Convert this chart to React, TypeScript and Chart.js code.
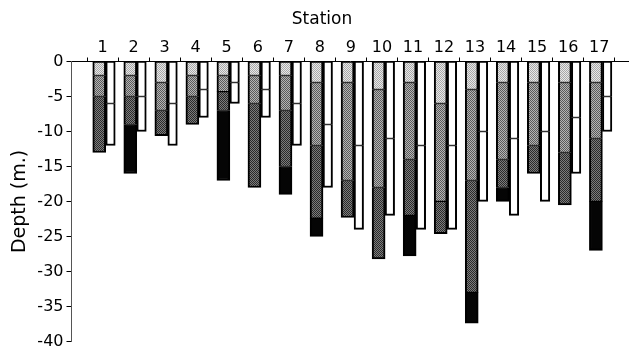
import React, { useEffect, useRef } from 'react';
import { Chart, registerables } from 'chart.js';

Chart.register(...registerables);

// ---- data ----
const stations = [1, 2, 3, 4, 5, 6, 7, 8, 9, 10, 11, 12, 13, 14, 15, 16, 17];
const stationBoundaries = [0.5, 1.5, 2.5, 3.5, 4.5, 5.5, 6.5, 7.5, 8.5, 9.5, 10.5, 11.5, 12.5, 13.5, 14.5, 15.5, 16.5, 17.5];

// left stacked column: layer thicknesses (m, negative = downward)
const layer1 = [-2, -2, -3, -2, -2, -2, -2, -3, -3, -4, -3, -6, -4, -3, -3, -3, -3];
const layer2 = [-3, -3, -4, -3, -2.3, -4, -5, -9, -14, -14, -11, -14, -13, -11, -9, -10, -8];
const layer3 = [-8, -4, -3.6, -4, -2.7, -12, -8, -10.4, -5.3, -10.2, -8, -4.6, -16, -4, -4, -7.5, -9];
const layer4 = [0, -7, 0, 0, -10, 0, -4, -2.6, 0, 0, -5.8, 0, -4.4, -2, 0, 0, -7];

// right open column: upper and lower halves
const upperPart = [-6, -5, -6, -4, -3, -4, -6, -9, -12, -11, -12, -12, -10, -11, -10, -8, -5];
const lowerPart = [-6, -5, -6, -4, -3, -4, -6, -9, -12, -11, -12, -12, -10, -11, -10, -8, -5];

const yMin = -40;
const yMax = 0;
const yStep = 5;

const FONT = 'DejaVu Sans';

function makePattern(ctx: CanvasRenderingContext2D, a: string, b: string): any {
  const c = document.createElement('canvas');
  c.width = 2;
  c.height = 2;
  const g = c.getContext('2d')!;
  g.fillStyle = a;
  g.fillRect(0, 0, 2, 2);
  g.fillStyle = b;
  g.fillRect(0, 0, 1, 1);
  g.fillRect(1, 1, 1, 1);
  return ctx.createPattern(c, 'repeat') || a;
}

export default function App() {
  const ref = useRef<HTMLCanvasElement | null>(null);

  useEffect(() => {
    const canvas = ref.current!;
    const ctx = canvas.getContext('2d')!;
    const pLight = makePattern(ctx, '#e8e8e8', '#a8a8a8');
    const pMid = makePattern(ctx, '#b4b4b4', '#5a5a5a');
    const pDark = makePattern(ctx, '#7c7c7c', '#2a2a2a');

    const leftLayers = [layer1, layer2, layer3, layer4];
    const leftFills: any[] = [pLight, pMid, pDark, '#050505'];
    const rightLayers = [upperPart, lowerPart];

    const bw = (layers: number[][], k: number) => (c: any) => {
      const i = c.dataIndex;
      let last = true;
      for (let j = k + 1; j < layers.length; j++) if (layers[j][i] !== 0) last = false;
      return { top: 1, bottom: last ? 2 : 1, left: 2, right: 2 };
    };

    const datasets: any[] = [];
    leftLayers.forEach((arr, k) => {
      datasets.push({
        label: 'L' + k,
        stack: 'L',
        xAxisID: 'xd',
        yAxisID: 'y',
        data: stations.map((s, i) => ({ x: s, y: arr[i] })),
        backgroundColor: leftFills[k],
        borderColor: '#000',
        borderWidth: bw(leftLayers, k),
        borderSkipped: false,
        barThickness: 13,
      });
    });
    rightLayers.forEach((arr, k) => {
      datasets.push({
        label: 'R' + k,
        stack: 'R',
        xAxisID: 'xd',
        yAxisID: 'y',
        data: stations.map((s, i) => ({ x: s, y: arr[i] })),
        backgroundColor: '#ffffff',
        borderColor: '#000',
        borderWidth: bw(rightLayers, k),
        borderSkipped: false,
        barThickness: 9.5,
      });
    });

    const xMax = 17.96;
    const shift = 0.103;

    const chart = new Chart(ctx, {
      type: 'bar',
      data: { datasets },
      options: {
        animation: false,
        responsive: true,
        maintainAspectRatio: false,
        devicePixelRatio: 1,
        layout: { padding: { left: 15, right: 0, top: 0, bottom: 12.5 } },
        plugins: {
          legend: { display: false },
          tooltip: { enabled: false },
          title: {
            display: true,
            text: 'Station',
            position: 'top',
            align: 'center',
            fullSize: true,
            color: '#000',
            font: { family: FONT, size: 17, weight: 'normal' },
            padding: { top: 9, bottom: 0 },
          },
        },
        scales: {
          xd: { type: 'linear', display: false, offset: false, min: 0 - shift, max: xMax - shift },
          x: {
            type: 'linear',
            position: 'top',
            weight: 0,
            offset: false,
            min: 0,
            max: xMax,
            afterBuildTicks: (s: any) => {
              s.ticks = stationBoundaries.map((v) => ({ value: v }));
            },
            ticks: { display: false },
            grid: { offset: false, drawOnChartArea: false, drawTicks: true, tickLength: 4, color: '#000', lineWidth: 1 },
            border: { display: true, color: '#000', width: 1 },
            afterFit: (s: any) => {
              s.height = 4;
            },
          },
          xl: {
            type: 'linear',
            position: 'top',
            weight: 1,
            offset: false,
            min: 0,
            max: xMax,
            afterBuildTicks: (s: any) => {
              s.ticks = stations.map((v) => ({ value: v }));
            },
            ticks: { color: '#000', font: { family: FONT, size: 16 }, padding: 0, autoSkip: false, maxRotation: 0 },
            grid: { display: false, drawTicks: false, offset: false },
            border: { display: false },
            afterFit: (s: any) => {
              s.height = 28.1;
            },
          },
          y: {
            type: 'linear',
            stacked: true,
            min: yMin,
            max: yMax,
            ticks: { stepSize: yStep, color: '#000', font: { family: FONT, size: 16 }, padding: 3 },
            grid: { drawOnChartArea: false, drawTicks: true, tickLength: 5, color: '#000' },
            border: { display: true, color: '#555', width: 1 },
            title: {
              display: true,
              text: 'Depth (m.)',
              color: '#000',
              font: { family: FONT, size: 19, lineHeight: 0.5 },
              padding: { top: 0, bottom: 0 },
            },
            afterFit: (s: any) => {
              s.width = 56.5;
            },
          },
        },
      },
    });
    return () => chart.destroy();
  }, []);

  return (
    <div style={{ position: 'absolute', left: 0, top: 0, width: 629, height: 354, background: '#fff' }}>
      <canvas ref={ref} />
    </div>
  );
}
